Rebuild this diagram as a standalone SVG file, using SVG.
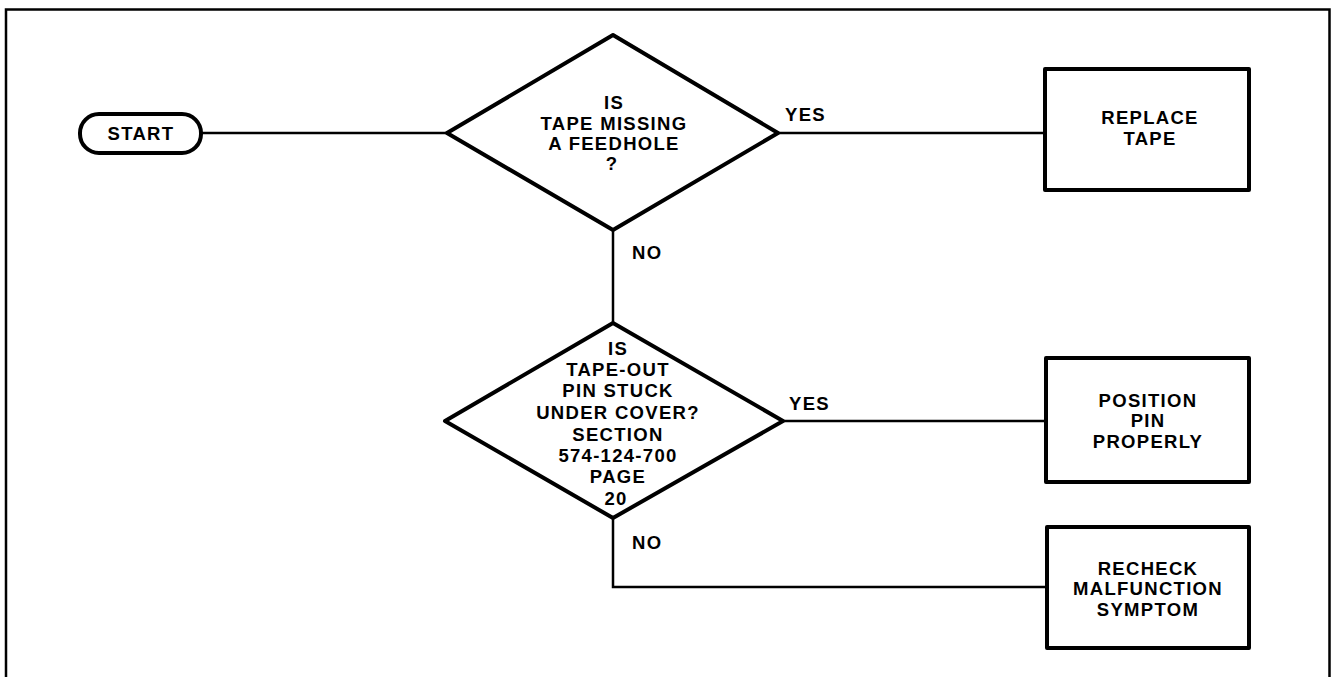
<svg xmlns="http://www.w3.org/2000/svg" width="1331" height="677" viewBox="0 0 1331 677">
<style>
.shape{fill:none;stroke:#000;stroke-width:4;stroke-linejoin:round}
.conn{fill:none;stroke:#000;stroke-width:2.5}
text{font-family:"Liberation Sans",Arial,sans-serif;font-weight:bold;font-size:18.5px;letter-spacing:1.3px;fill:#000;text-anchor:middle}
.lbl{text-anchor:start}
</style>
<rect width="1331" height="677" fill="#fff"/>
<path d="M6,680 V9.5 H1329.5 V680" fill="none" stroke="#000" stroke-width="2.5"/>
<g id="connectors">
<line class="conn" x1="202" y1="133" x2="447" y2="133"/>
<line class="conn" x1="778" y1="133" x2="1044" y2="133"/>
<line class="conn" x1="613" y1="230" x2="613" y2="323"/>
<line class="conn" x1="783" y1="421" x2="1045" y2="421"/>
<path class="conn" d="M613,518 V587 H1046"/>
<text class="lbl" x="785" y="121">YES</text>
<text class="lbl" x="632" y="259">NO</text>
<text class="lbl" x="789" y="410">YES</text>
<text class="lbl" x="632" y="549">NO</text>
</g>
<g id="start">
<rect class="shape" x="80" y="114" width="121" height="39" rx="19" ry="19"/>
<text x="141" y="140">START</text>
</g>
<g id="decision1">
<polygon class="shape" points="613,35 778,133 613,230 447,133"/>
<text x="614" y="109">IS</text>
<text x="614" y="130">TAPE MISSING</text>
<text x="614" y="150">A FEEDHOLE</text>
<text x="612" y="170">?</text>
</g>
<g id="replace-tape">
<rect class="shape" x="1045" y="69" width="204" height="121"/>
<text x="1150" y="124">REPLACE</text>
<text x="1150" y="145">TAPE</text>
</g>
<g id="decision2">
<polygon class="shape" points="613,323 783,421 613,518 445,421"/>
<text x="618" y="355">IS</text>
<text x="618" y="376">TAPE-OUT</text>
<text x="618" y="397">PIN STUCK</text>
<text x="618" y="419">UNDER COVER?</text>
<text x="618" y="441">SECTION</text>
<text x="618" y="462">574-124-700</text>
<text x="618" y="483">PAGE</text>
<text x="616" y="505">20</text>
</g>
<g id="position-pin">
<rect class="shape" x="1046" y="358" width="203" height="124"/>
<text x="1148" y="407">POSITION</text>
<text x="1148" y="427">PIN</text>
<text x="1148" y="448">PROPERLY</text>
</g>
<g id="recheck">
<rect class="shape" x="1047" y="527" width="202" height="121"/>
<text x="1148" y="575">RECHECK</text>
<text x="1148" y="595">MALFUNCTION</text>
<text x="1148" y="616">SYMPTOM</text>
</g>
</svg>
